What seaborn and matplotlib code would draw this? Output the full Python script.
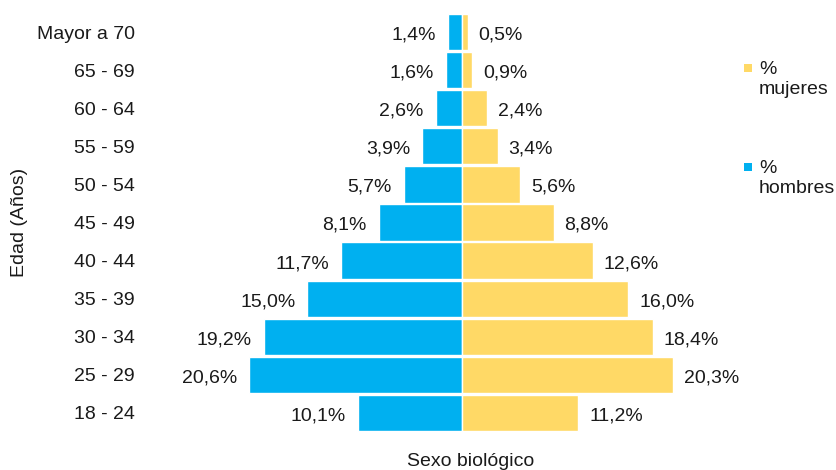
import matplotlib
matplotlib.use("Agg")
import matplotlib.pyplot as plt
import seaborn as sns
import pandas as pd
from matplotlib.patches import Rectangle

# data (top to bottom)
edades = ["Mayor a 70", "65 - 69", "60 - 64", "55 - 59", "50 - 54", "45 - 49",
          "40 - 44", "35 - 39", "30 - 34", "25 - 29", "18 - 24"]
hombres = [1.4, 1.6, 2.6, 3.9, 5.7, 8.1, 11.7, 15.0, 19.2, 20.6, 10.1]
mujeres = [0.5, 0.9, 2.4, 3.4, 5.6, 8.8, 12.6, 16.0, 18.4, 20.3, 11.2]

azul = "#00B0F0"
amarillo = "#FFD966"
texto = "#1a1a1a"

sns.set_theme(style="white")
plt.rcParams["font.family"] = ["Liberation Sans", "DejaVu Sans"]

df = pd.DataFrame({"edad": edades,
                   "hombres": [-v for v in hombres],
                   "mujeres": mujeres})

fig = plt.figure(figsize=(8.37, 4.70), dpi=100)
ax = fig.add_axes([150 / 837, 38 / 470, 625 / 837, 419 / 470])

sns.barplot(data=df, y="edad", x="hombres", order=edades, color=azul,
            saturation=1, width=0.95, edgecolor="white", linewidth=1, ax=ax)
sns.barplot(data=df, y="edad", x="mujeres", order=edades, color=amarillo,
            saturation=1, width=0.95, edgecolor="white", linewidth=1, ax=ax)

def fmt(v):
    return f"{v:.1f}".replace(".", ",") + "%"

for i, (h, m) in enumerate(zip(hombres, mujeres)):
    ax.annotate(fmt(h), (-h, i), xytext=(-12, -1), textcoords="offset pixels",
                ha="right", va="center_baseline", fontsize=14, color=texto)
    ax.annotate(fmt(m), (m, i), xytext=(11, -1), textcoords="offset pixels",
                ha="left", va="center_baseline", fontsize=14, color=texto)

ax.set_xlim(-30.2, 30.2)
ax.set_ylim(10.5, -0.5)
ax.set_xticks([])
ax.set_xlabel("")
ax.set_ylabel("")
ax.tick_params(axis="y", length=0, pad=10.8, labelsize=14, labelcolor=texto)
for s in ax.spines.values():
    s.set_visible(False)

fig.text(471 / 837, 1 - 462 / 470, "Sexo biológico", ha="center", va="center",
         fontsize=14, color=texto)
fig.text(20 / 837, 1 - 222 / 470, "Edad (Años)", ha="center", va="center",
         rotation=90, fontsize=14, color=texto)

# legend
for y0, col, lab in [(68, amarillo, "%\nmujeres"), (167, azul, "%\nhombres")]:
    fig.add_artist(Rectangle((744 / 837, 1 - (y0 + 4) / 470), 8 / 837, 8 / 470,
                             transform=fig.transFigure, color=col, lw=0))
    fig.text(759 / 837, 1 - (y0 - 7) / 470, lab, ha="left", va="top",
             fontsize=14, color=texto, linespacing=1.2)

fig.savefig("out.png", dpi=100)
